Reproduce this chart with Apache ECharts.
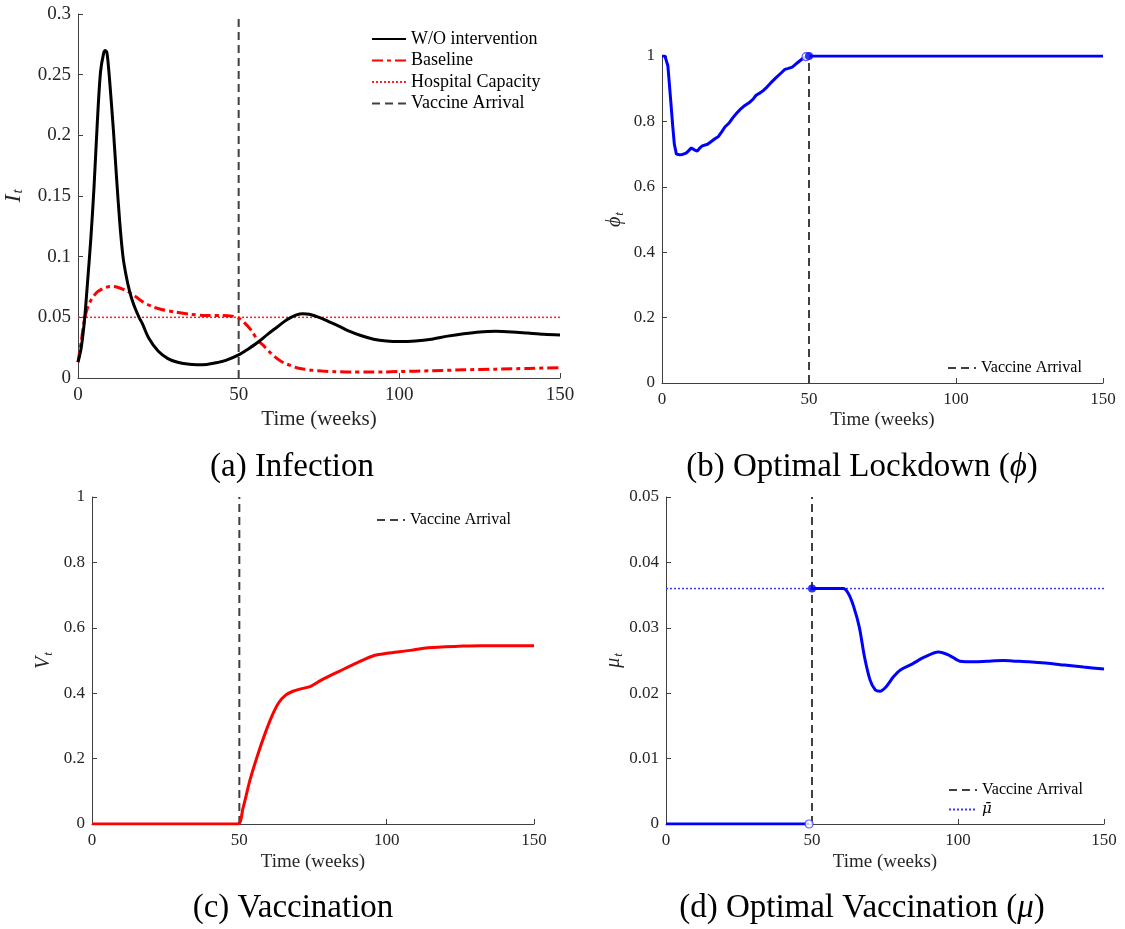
<!DOCTYPE html>
<html>
<head>
<meta charset="utf-8">
<script src="https://cdn.jsdelivr.net/npm/echarts@6/dist/echarts.min.js"></script>
<style>
  html, body { margin: 0; background: #fff; }
  #chart { width: 1125px; height: 929px; }
</style>
</head>
<body>
<div id="chart"></div>
<script>
// (a) infection
const woWeeks = [0, 1, 2, 3, 4, 5, 6, 7, 8, 8.5, 9, 9.5, 10, 11, 12, 13, 14, 15, 16, 17, 18, 19, 20, 22, 25, 28, 31, 34, 37, 40, 43, 46, 50, 53, 56, 59, 62, 65, 68, 70, 72, 75, 78, 81, 84, 88, 92, 96, 100, 105, 110, 115, 120, 125, 130, 135, 140, 145, 150]
const woValues = [0.013, 0.025, 0.047, 0.08, 0.115, 0.158, 0.21, 0.252, 0.268, 0.27, 0.268, 0.256, 0.24, 0.205, 0.165, 0.128, 0.1, 0.084, 0.072, 0.063, 0.056, 0.05, 0.045, 0.033, 0.022, 0.016, 0.013, 0.0115, 0.011, 0.0112, 0.0125, 0.0145, 0.019, 0.024, 0.0295, 0.036, 0.042, 0.048, 0.052, 0.053, 0.0525, 0.05, 0.0465, 0.043, 0.039, 0.035, 0.032, 0.0305, 0.03, 0.0305, 0.032, 0.0345, 0.0365, 0.038, 0.0385, 0.038, 0.037, 0.036, 0.0355]
const baseWeeks = [0, 1, 2, 3, 4, 5, 6, 8, 10, 12, 15, 18, 20, 23, 26, 30, 35, 40, 45, 48, 50, 52, 54, 56, 58, 60, 62, 64, 66, 68, 70, 73, 76, 80, 85, 90, 95, 100, 110, 120, 130, 140, 150]
const baseValues = [0.013, 0.03, 0.048, 0.058, 0.064, 0.068, 0.071, 0.074, 0.0755, 0.075, 0.072, 0.067, 0.063, 0.059, 0.0565, 0.0545, 0.0525, 0.0515, 0.0515, 0.051, 0.0495, 0.045, 0.039, 0.031, 0.026, 0.0205, 0.016, 0.0125, 0.0105, 0.0085, 0.0075, 0.0063, 0.0057, 0.0052, 0.0049, 0.0049, 0.005, 0.0053, 0.006, 0.0067, 0.0073, 0.0079, 0.0085]
const hospitalCapacity = 0.05

// (b) optimal lockdown
const phiWeeks = [0, 1, 2, 3, 3.7, 4.2, 4.9, 6, 7, 8.2, 9, 10, 11, 12, 13, 13.7, 15.5, 17, 18, 19.2, 20.3, 21.4, 22.9, 24, 25.3, 26.5, 27.8, 29.6, 31, 32, 33.5, 34.5, 35.7, 36.9, 38.8, 40.5, 41.8, 43, 44.3, 45.5, 46.7, 48, 49]
const phiValues = [1, 1, 0.97, 0.86, 0.78, 0.73, 0.7, 0.698, 0.699, 0.703, 0.71, 0.719, 0.713, 0.709, 0.72, 0.725, 0.73, 0.74, 0.747, 0.754, 0.768, 0.783, 0.796, 0.81, 0.824, 0.836, 0.846, 0.857, 0.868, 0.88, 0.888, 0.895, 0.905, 0.917, 0.934, 0.948, 0.959, 0.962, 0.966, 0.975, 0.984, 0.993, 0.998]
const phiAfterWeeks = [50, 150]
const phiAfterValues = [1, 1]

// (c) vaccination
const vWeeks = [0, 49.3, 51.2, 53.6, 56, 58.5, 60.9, 63.3, 65.7, 68.2, 71.2, 74.2, 77.8, 83.9, 89.9, 96, 100, 108, 114, 120, 126, 132, 138, 144, 150]
const vValues = [0, 0, 0.047, 0.134, 0.205, 0.271, 0.327, 0.37, 0.394, 0.406, 0.414, 0.421, 0.44, 0.467, 0.493, 0.516, 0.522, 0.531, 0.539, 0.542, 0.544, 0.545, 0.545, 0.545, 0.545]

// (d) optimal vaccination
const muBeforeWeeks = [0, 49]
const muBeforeValues = [0, 0]
const muWeeks = [50, 55, 60.7, 62.5, 64.3, 66.2, 68, 69.9, 71.7, 73.3, 75.4, 77.9, 80.4, 84.1, 88.4, 93.3, 97, 100.7, 105.6, 110, 115.5, 120, 124.2, 130, 136.5, 143, 150]
const muValues = [0.036, 0.036, 0.036, 0.0352, 0.0332, 0.0301, 0.0255, 0.022, 0.0205, 0.0203, 0.021, 0.0225, 0.0236, 0.0244, 0.0255, 0.0263, 0.0258, 0.0249, 0.0248, 0.0249, 0.025, 0.0249, 0.0248, 0.0246, 0.0243, 0.024, 0.0237]
const muBar = 0.036

const vaccineWeek = 50
const xTicks = {min: 0, max: 150, interval: 50}
// y range per panel: a, b, c, d
const yMin = [0, 0, 0, 0]
const yMax = [0.3, 1, 1, 0.05]
const yStep = [0.05, 0.2, 0.2, 0.01]
const captions = ['(a) Infection', '(b) Optimal Lockdown ({i|ϕ})', '(c) Vaccination', '(d) Optimal Vaccination ({i|μ})']

const FONT = 'Liberation Serif'
const AXIS_COLOR = '#404040'

const zip = (xs, ys) => xs.map((x, i) => [x, ys[i]])

const grids = [
  {left: 78, top: 14, width: 482, height: 364},
  {left: 662, top: 56, width: 441, height: 327},
  {left: 92, top: 497, width: 442, height: 327},
  {left: 666, top: 497, width: 438, height: 327}
]

const tickSize = [19, 17, 17, 17]
const nameSize = [21, 19, 19, 19]
const xNameGap = [31, 28, 29, 29]
const yNameGap = [52, 36, 37, 40]
const yNames = ['{v|I}{s|t}', '{v|ϕ}{s|t}', '{v|V}{s|t}', '{v|μ}{s|t}']

const xAxes = grids.map((g, i) => ({
  gridIndex: i,
  type: 'value',
  min: xTicks.min,
  max: xTicks.max,
  interval: xTicks.interval,
  name: 'Time (weeks)',
  nameLocation: 'middle',
  nameGap: xNameGap[i],
  nameTextStyle: {fontFamily: FONT, fontSize: nameSize[i], color: '#262626'},
  axisLine: {show: true, lineStyle: {color: AXIS_COLOR, width: 1}},
  axisTick: {show: true, inside: true, length: 5, lineStyle: {color: AXIS_COLOR}},
  axisLabel: {fontFamily: FONT, fontSize: tickSize[i], color: '#262626', margin: 8},
  splitLine: {show: false}
}))

const yAxes = grids.map((g, i) => ({
  gridIndex: i,
  type: 'value',
  min: yMin[i],
  max: yMax[i],
  interval: yStep[i],
  name: yNames[i],
  nameLocation: 'middle',
  nameRotate: 90,
  nameGap: yNameGap[i],
  nameTextStyle: {
    fontFamily: FONT,
    color: '#262626',
    rich: {
      v: {fontFamily: FONT, fontStyle: 'italic', fontSize: i === 0 ? 24 : 20, color: '#262626'},
      s: {fontFamily: FONT, fontStyle: 'italic', fontSize: i === 0 ? 15 : 13, color: '#262626', verticalAlign: 'bottom', padding: [10, 0, 0, 1]}
    }
  },
  axisLine: {show: true, lineStyle: {color: AXIS_COLOR, width: 1}},
  axisTick: {show: true, inside: true, length: 5, lineStyle: {color: AXIS_COLOR}},
  axisLabel: {fontFamily: FONT, fontSize: tickSize[i], color: '#262626', margin: 7},
  splitLine: {show: false}
}))

const vaccineSeries = (i) => ({
  name: 'Vaccine Arrival',
  type: 'line',
  xAxisIndex: i,
  yAxisIndex: i,
  symbol: 'none',
  z: 1,
  lineStyle: {color: '#404040', width: 2, type: [8, 5]},
  itemStyle: {color: '#404040'},
  data: [[vaccineWeek, yMin[i]], [vaccineWeek, yMax[i]]]
})

const curve = (name, i, data, color, extra) => Object.assign({
  name: name,
  type: 'line',
  xAxisIndex: i,
  yAxisIndex: i,
  symbol: 'none',
  z: 3,
  lineStyle: {color: color, width: 3},
  itemStyle: {color: color},
  data: data
}, extra || {})

const dot = (i, point, filled) => ({
  name: 'marker',
  type: 'scatter',
  xAxisIndex: i,
  yAxisIndex: i,
  symbol: 'circle',
  symbolSize: 8,
  z: 5,
  itemStyle: filled
    ? {color: '#0000ff'}
    : {color: '#ffffff', borderColor: '#3333ff', borderWidth: 1.2},
  data: [point]
})

const series = [
  // (a)
  curve('Hospital Capacity', 0, [[xTicks.min, hospitalCapacity], [xTicks.max, hospitalCapacity]], '#ff2020', {lineStyle: {color: '#ff2020', width: 1.5, type: [2, 2]}, z: 2}),
  vaccineSeries(0),
  curve('Baseline', 0, zip(baseWeeks, baseValues), '#ff0000', {smooth: 0.3, lineStyle: {color: '#ff0000', width: 3, type: [11, 4, 4, 4]}}),
  curve('W/O intervention', 0, zip(woWeeks, woValues), '#000000', {smooth: 0.3}),
  // (b)
  vaccineSeries(1),
  curve('phi', 1, zip(phiWeeks, phiValues), '#0000ff'),
  curve('phi after', 1, zip(phiAfterWeeks, phiAfterValues), '#0000ff'),
  dot(1, [phiWeeks[phiWeeks.length - 1], phiValues[phiValues.length - 1]], false),
  dot(1, [phiAfterWeeks[0], phiAfterValues[0]], true),
  // (c)
  vaccineSeries(2),
  curve('V', 2, zip(vWeeks, vValues), '#ff0000', {smooth: 0.3}),
  // (d)
  vaccineSeries(3),
  curve('μ̄', 3, [[xTicks.min, muBar], [xTicks.max, muBar]], '#3b3bff', {lineStyle: {color: '#3b3bff', width: 1.5, type: [2, 2]}, z: 2}),
  curve('mu before', 3, zip(muBeforeWeeks, muBeforeValues), '#0000ff'),
  curve('mu', 3, zip(muWeeks, muValues), '#0000ff', {smooth: 0.3}),
  dot(3, [muBeforeWeeks[1], muBeforeValues[1]], false),
  dot(3, [muWeeks[0], muValues[0]], true)
]

const legendBase = {
  orient: 'vertical',
  itemHeight: 10,
  selectedMode: false,
  // hide the marker in the middle of each legend line
  itemStyle: {color: 'rgba(0,0,0,0)', borderColor: 'rgba(0,0,0,0)', borderWidth: 0}
}

const legends = [
  Object.assign({}, legendBase, {
    data: ['W/O intervention', 'Baseline', 'Hospital Capacity', 'Vaccine Arrival'],
    left: 366, top: 25, itemWidth: 34, itemGap: 3.5,
    textStyle: {fontFamily: FONT, fontSize: 18, color: '#000'}
  }),
  Object.assign({}, legendBase, {
    data: ['Vaccine Arrival'],
    left: 942, top: 355, itemWidth: 28, itemGap: 4,
    textStyle: {fontFamily: FONT, fontSize: 16, color: '#000'}
  }),
  Object.assign({}, legendBase, {
    data: ['Vaccine Arrival'],
    left: 371, top: 507, itemWidth: 28, itemGap: 4,
    textStyle: {fontFamily: FONT, fontSize: 16, color: '#000'}
  }),
  Object.assign({}, legendBase, {
    data: ['Vaccine Arrival', 'μ̄'],
    left: 943, top: 777, itemWidth: 28, itemGap: 4,
    formatter: (name) => name === 'μ̄' ? '{i|' + name + '}' : name,
    textStyle: {fontFamily: FONT, fontSize: 16, color: '#000', rich: {i: {fontFamily: 'DejaVu Serif', fontStyle: 'italic', fontSize: 15}}}
  })
]

const captionPos = [[292, 467], [862, 467], [293, 908], [862, 908]]

const graphics = captions.map((text, i) => ({
  type: 'text',
  x: captionPos[i][0],
  y: captionPos[i][1],
  style: {
    text: text,
    fontFamily: FONT,
    fontSize: 33,
    fill: '#000',
    align: 'center',
    verticalAlign: 'middle',
    rich: {i: {fontFamily: FONT, fontStyle: 'italic', fontSize: 33}}
  }
}))

const chart = echarts.init(document.getElementById('chart'))
chart.setOption({
  animation: false,
  backgroundColor: '#ffffff',
  textStyle: {fontFamily: FONT},
  grid: grids,
  xAxis: xAxes,
  yAxis: yAxes,
  legend: legends,
  graphic: graphics,
  series: series
})
</script>
</body>
</html>
